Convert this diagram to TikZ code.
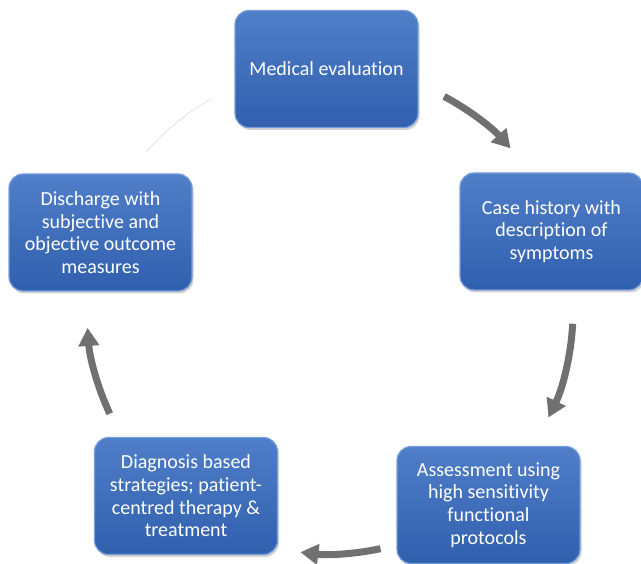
\documentclass[tikz,border=0pt]{standalone}
\usepackage{fontspec}
\setmainfont{Carlito}[Ligatures=NoCommon]
\usetikzlibrary{calc,arrows.meta,shadows}

\definecolor{boxtop}{RGB}{80,126,200}
\definecolor{boxbot}{RGB}{48,95,174}
\definecolor{boxrim}{RGB}{118,158,220}
\definecolor{arrowgray}{RGB}{112,112,112}
\definecolor{faintgray}{RGB}{226,226,226}

\begin{document}
\begin{tikzpicture}[x=1pt, y=-1pt,
  every node/.style={rectangle, rounded corners=14pt, minimum width=183pt, minimum height=117pt,
    top color=boxtop, bottom color=boxbot, draw=boxrim, line width=1.2pt, text=white,
    align=center, font=\fontsize{20}{22.6}\selectfont,
    drop shadow={opacity=0.35, shadow xshift=1.5pt, shadow yshift=-2.5pt}},
  cycarrow/.style={draw=arrowgray, line width=7pt, -{Triangle[width=20pt,length=18pt]}}]
\useasboundingbox (0,0) rectangle (641,564);
\coordinate (O) at (330,311);
\coordinate (A) at (326.5,69);
\coordinate (B) at (551.5,231.5);
\coordinate (C) at (488.5,505);
\coordinate (D) at (186,496);
\coordinate (E) at (100.5,232.5);
\coordinate (a1) at ($(O)+(-62:243)$);
\coordinate (a2) at ($(O)+(3:243)$);
\coordinate (a3) at ($(O)+(78:243)$);
\coordinate (a4) at ($(O)+(155:243)$);
\coordinate (a5) at ($(O)+(221:243)$);
\draw[cycarrow] (a1) arc[start angle=-62, end angle=-42, radius=243];
\draw[cycarrow] (a2) arc[start angle=3, end angle=26, radius=243];
\draw[cycarrow] (a3) arc[start angle=78, end angle=97, radius=243];
\draw[cycarrow] (a4) arc[start angle=155, end angle=176, radius=243];
\draw[faintgray, line width=0.8pt] (a5) arc[start angle=221, end angle=241, radius=243];  %gap

\node (eval) at (A) {Medical evaluation};
\node (hist) at (B) {Case history with\\description of\\symptoms};
\node (assess) at (C) {Assessment using\\high sensitivity\\functional\\protocols};
\node (diag) at (D) {Diagnosis based\\strategies; patient-\\centred therapy \&\\treatment};
\node (disch) at (E) {Discharge with\\subjective and\\objective outcome\\measures};
\end{tikzpicture}
\end{document}
